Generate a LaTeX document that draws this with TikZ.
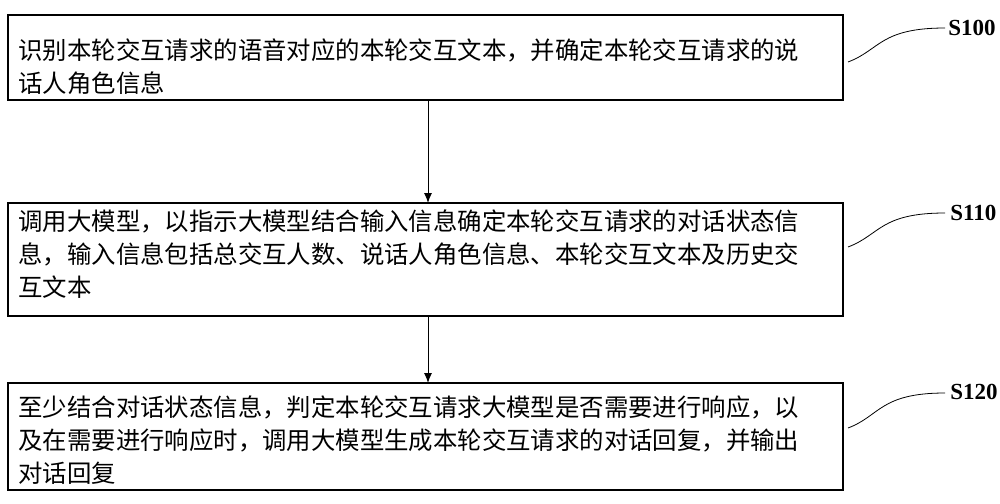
\documentclass[tikz,border=0pt]{standalone}
\usepackage{fontspec}
\newfontfamily\cjk{Noto Sans CJK SC}
\setmainfont{Liberation Serif}
\usetikzlibrary{arrows.meta}
\begin{document}
\begin{tikzpicture}[x=0.5pt,y=-0.5pt,
  txt/.style={anchor=north west,align=left,font=\cjk\fontsize{12.2pt}{16.5pt}\selectfont,inner sep=0},
  lab/.style={font=\bfseries\fontsize{11.5pt}{13pt}\selectfont,anchor=west,inner sep=0},
  arr/.style={-{Latex[length=5pt,width=4pt]},line width=0.5pt}]
\useasboundingbox (0,0) rectangle (1000,503);
\draw[line width=0.8pt] (8,15) rectangle (843,100);
\draw[line width=0.8pt] (8,203) rectangle (843,316);
\draw[line width=0.8pt] (8,383) rectangle (843,490);
\coordinate (b1) at (428,100); \coordinate (t2) at (428,203);
\coordinate (b2) at (428,316); \coordinate (t3) at (428,383);
\node[txt] (x1) at (18,38) {识别本轮交互请求的语音对应的本轮交互文本，并确定本轮交互请求的说\\话人角色信息};
\node[txt] (x2) at (18,209) {调用大模型，以指示大模型结合输入信息确定本轮交互请求的对话状态信\\息，输入信息包括总交互人数、说话人角色信息、本轮交互文本及历史交\\互文本};
\node[txt] (x3) at (18,395) {至少结合对话状态信息，判定本轮交互请求大模型是否需要进行响应，以\\及在需要进行响应时，调用大模型生成本轮交互请求的对话回复，并输出\\对话回复};
\draw[arr] (b1) -- (t2);
\draw[arr] (b2) -- (t3);
\node[lab] (s1) at (948,28) {S100};
\node[lab] (s2) at (950,213) {S110};
\node[lab] (s3) at (950,392) {S120};
\draw[line width=0.4pt] (848,62) .. controls (880,50) and (880,28) .. (945,28);
\draw[line width=0.4pt] (848,247) .. controls (880,235) and (880,213) .. (945,213);
\draw[line width=0.4pt] (848,428) .. controls (880,416) and (880,393) .. (945,393);
\end{tikzpicture}
\end{document}
